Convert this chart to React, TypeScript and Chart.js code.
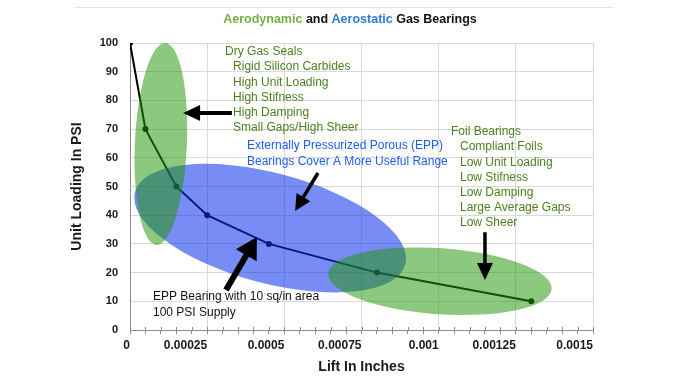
import React, { useEffect, useRef } from "react";
import { Chart, registerables } from "chart.js";

Chart.register(...registerables);

// ---- data ----
const liftInches = [0, 0.00005, 0.00015, 0.00025, 0.00045, 0.0008, 0.0013];
const unitLoadingPsi = [100, 70, 50, 40, 30, 20, 10];
const xTickLabels = ["0", "0.00025", "0.0005", "0.00075", "0.001", "0.00125", "0.0015"];
const X_MAJOR = 0.00025;
const X_MINOR = 0.00005;

const titleParts = [
  { text: "Aerodynamic", color: "#77ad45" },
  { text: " and ", color: "#111111" },
  { text: "Aerostatic", color: "#2e7bcf" },
  { text: " Gas Bearings", color: "#111111" },
];

const dryGasSealsLines = [
  "Dry Gas Seals",
  "Rigid Silicon Carbides",
  "High Unit Loading",
  "High Stifness",
  "High Damping",
  "Small Gaps/High Sheer",
];
const eppLines = ["Externally Pressurized Porous (EPP)", "Bearings Cover A More Useful Range"];
const foilLines = [
  "Foil Bearings",
  "Compliant Foils",
  "Low Unit Loading",
  "Low Stifness",
  "Low Damping",
  "Large Average Gaps",
  "Low Sheer",
];
const eppBearingLines = ["EPP Bearing with 10 sq/in area", "100 PSI Supply"];

// ---- annotation geometry (centres in data units, sizes in px) ----
const ellipses = [
  { x: 0.000454, y: 35.5, rx: 140, ry: 55, angle: 15, fill: "rgba(10,46,237,0.55)" },
  { x: 0.0001, y: 64.8, rx: 26, ry: 101, angle: 2.5, fill: "rgba(34,149,5,0.52)" },
  { x: 0.001004, y: 17, rx: 112, ry: 33, angle: 4, fill: "rgba(34,149,5,0.52)" },
];

const arrows = [
  { from: [0.00033, 75.6], to: [0.000172, 75.6], shaft: 4, headLen: 17, headHalf: 8 },
  { from: [0.000609, 54.7], to: [0.000535, 41.5], shaft: 3.5, headLen: 16, headHalf: 8 },
  { from: [0.000311, 13.9], to: [0.000411, 32.4], shaft: 6, headLen: 21, headHalf: 12 },
  { from: [0.00115, 34.1], to: [0.00115, 17.4], shaft: 3.5, headLen: 17, headHalf: 8 },
];

const textBlocks = [
  { x: 0.000308, indentX: 0.000334, y: 96.9, lines: dryGasSealsLines, color: "#4d7f1f" },
  { x: 0.000379, indentX: 0.000379, y: 64.1, lines: eppLines, color: "#1f5cf0" },
  { x: 0.00104, indentX: 0.001069, y: 69.0, lines: foilLines, color: "#4d7f1f" },
  { x: 0.0000745, indentX: 0.0000745, y: 11.5, lines: eppBearingLines, color: "#111111" },
];
const LINE_GAP = 15.2;

const annotationPlugin = {
  id: "gasAnnotations",
  afterDatasetsDraw(chart: any) {
    const { ctx, scales } = chart;
    const xs = scales.x;
    const ys = scales.y;
    ctx.save();
    // minor tick marks crossing above the x axis
    ctx.strokeStyle = "#8c8c8c";
    ctx.lineWidth = 1;
    for (const t of xs.ticks) {
      const px = Math.round(xs.getPixelForValue(t.value)) + 0.5;
      ctx.beginPath();
      ctx.moveTo(px, xs.top - 3);
      ctx.lineTo(px, xs.top);
      ctx.stroke();
    }
    for (const e of ellipses) {
      ctx.beginPath();
      ctx.ellipse(
        xs.getPixelForValue(e.x),
        ys.getPixelForValue(e.y),
        e.rx,
        e.ry,
        (e.angle * Math.PI) / 180,
        0,
        Math.PI * 2
      );
      ctx.fillStyle = e.fill;
      ctx.fill();
    }
    ctx.fillStyle = "#000000";
    for (const a of arrows) {
      const x0 = xs.getPixelForValue(a.from[0]);
      const y0 = ys.getPixelForValue(a.from[1]);
      const x1 = xs.getPixelForValue(a.to[0]);
      const y1 = ys.getPixelForValue(a.to[1]);
      const len = Math.hypot(x1 - x0, y1 - y0);
      const ux = (x1 - x0) / len;
      const uy = (y1 - y0) / len;
      const nx = -uy;
      const ny = ux;
      const bx = x1 - ux * a.headLen;
      const by = y1 - uy * a.headLen;
      const s = a.shaft / 2;
      ctx.beginPath();
      ctx.moveTo(x0 + nx * s, y0 + ny * s);
      ctx.lineTo(bx + nx * s, by + ny * s);
      ctx.lineTo(bx + nx * a.headHalf, by + ny * a.headHalf);
      ctx.lineTo(x1, y1);
      ctx.lineTo(bx - nx * a.headHalf, by - ny * a.headHalf);
      ctx.lineTo(bx - nx * s, by - ny * s);
      ctx.lineTo(x0 - nx * s, y0 - ny * s);
      ctx.closePath();
      ctx.fill();
    }
    ctx.font = '12px "Liberation Sans", Arial, sans-serif';
    ctx.textBaseline = "middle";
    ctx.textAlign = "left";
    for (const b of textBlocks) {
      ctx.fillStyle = b.color;
      const y0 = ys.getPixelForValue(b.y);
      b.lines.forEach((line, i) => {
        const x = xs.getPixelForValue(i === 0 ? b.x : b.indentX);
        ctx.fillText(line, x, y0 + i * LINE_GAP);
      });
    }
    ctx.restore();
  },
};

const titlePlugin = {
  id: "multiColorTitle",
  afterDraw(chart: any) {
    const { ctx } = chart;
    ctx.save();
    ctx.strokeStyle = "#e4e4e4";
    ctx.lineWidth = 1;
    ctx.beginPath();
    ctx.moveTo(74, 7.5);
    ctx.lineTo(614, 7.5);
    ctx.stroke();
    ctx.font = 'bold 12.5px "Liberation Sans", Arial, sans-serif';
    ctx.textBaseline = "middle";
    ctx.textAlign = "left";
    const total = titleParts.reduce((s, p) => s + ctx.measureText(p.text).width, 0);
    let x = 350 - total / 2;
    for (const p of titleParts) {
      ctx.fillStyle = p.color;
      ctx.fillText(p.text, x, 20);
      x += ctx.measureText(p.text).width;
    }
    ctx.restore();
  },
};

export default function App() {
  const canvasRef = useRef<HTMLCanvasElement | null>(null);

  useEffect(() => {
    if (!canvasRef.current) return;
    const isMajor = (v: number) => Math.abs(v / X_MAJOR - Math.round(v / X_MAJOR)) < 1e-6;
    const chart = new Chart(canvasRef.current, {
      type: "scatter",
      data: {
        datasets: [
          {
            data: liftInches.map((x, i) => ({ x, y: unitLoadingPsi[i] })),
            showLine: true,
            borderColor: "#000000",
            backgroundColor: "#000000",
            borderWidth: 2,
            pointRadius: 3,
            pointBackgroundColor: "#000000",
            pointBorderWidth: 0,
            tension: 0,
          },
        ],
      },
      options: {
        responsive: false,
        animation: false,
        devicePixelRatio: 1,
        layout: { padding: { left: 65, top: 43, right: 103, bottom: 4 } },
        plugins: {
          legend: { display: false },
          tooltip: { enabled: false },
          title: { display: false },
        },
        scales: {
          x: {
            type: "linear",
            min: 0,
            max: 0.0015,
            afterFit: (axis: any) => {
              axis.height = 46;
            },
            ticks: {
              stepSize: X_MINOR,
              autoSkip: false,
              maxRotation: 0,
              minRotation: 0,
              align: "end",
              padding: 4,
              color: "#1a1a1a",
              font: { family: '"Liberation Sans", Arial, sans-serif', size: 12, weight: "bold" },
              callback: (v: any) => {
                const val = Number(v);
                if (!isMajor(val)) return "";
                return xTickLabels[Math.round(val / X_MAJOR)] ?? "";
              },
            },
            grid: {
              color: (c: any) => (c.tick && isMajor(c.tick.value) ? "#d9d9d9" : "rgba(0,0,0,0)"),
              tickColor: "#8c8c8c",
              tickLength: 4,
              lineWidth: 1,
            },
            border: { color: "#8c8c8c", width: 1 },
            title: {
              display: true,
              text: "Lift In Inches",
              color: "#1a1a1a",
              padding: { top: 0, bottom: 0 },
              font: { family: '"Liberation Sans", Arial, sans-serif', size: 14, weight: "bold" },
            },
          },
          y: {
            type: "linear",
            min: 0,
            max: 100,
            afterFit: (axis: any) => {
              axis.width = 65;
            },
            ticks: {
              stepSize: 10,
              padding: 12,
              color: "#1a1a1a",
              font: { family: '"Liberation Sans", Arial, sans-serif', size: 11, weight: "bold" },
            },
            grid: { color: "#d9d9d9", drawTicks: false, lineWidth: 1 },
            border: { color: "#8c8c8c", width: 1 },
            title: {
              display: true,
              text: "Unit Loading In PSI",
              color: "#1a1a1a",
              padding: { top: 4, bottom: 4 },
              font: { family: '"Liberation Sans", Arial, sans-serif', size: 14, weight: "bold" },
            },
          },
        },
      },
      plugins: [annotationPlugin, titlePlugin],
    } as any);
    return () => chart.destroy();
  }, []);

  return (
    <div style={{ position: "absolute", left: 0, top: 0, width: 696, height: 380, background: "#ffffff" }}>
      <canvas ref={canvasRef} width={696} height={380} />
    </div>
  );
}
